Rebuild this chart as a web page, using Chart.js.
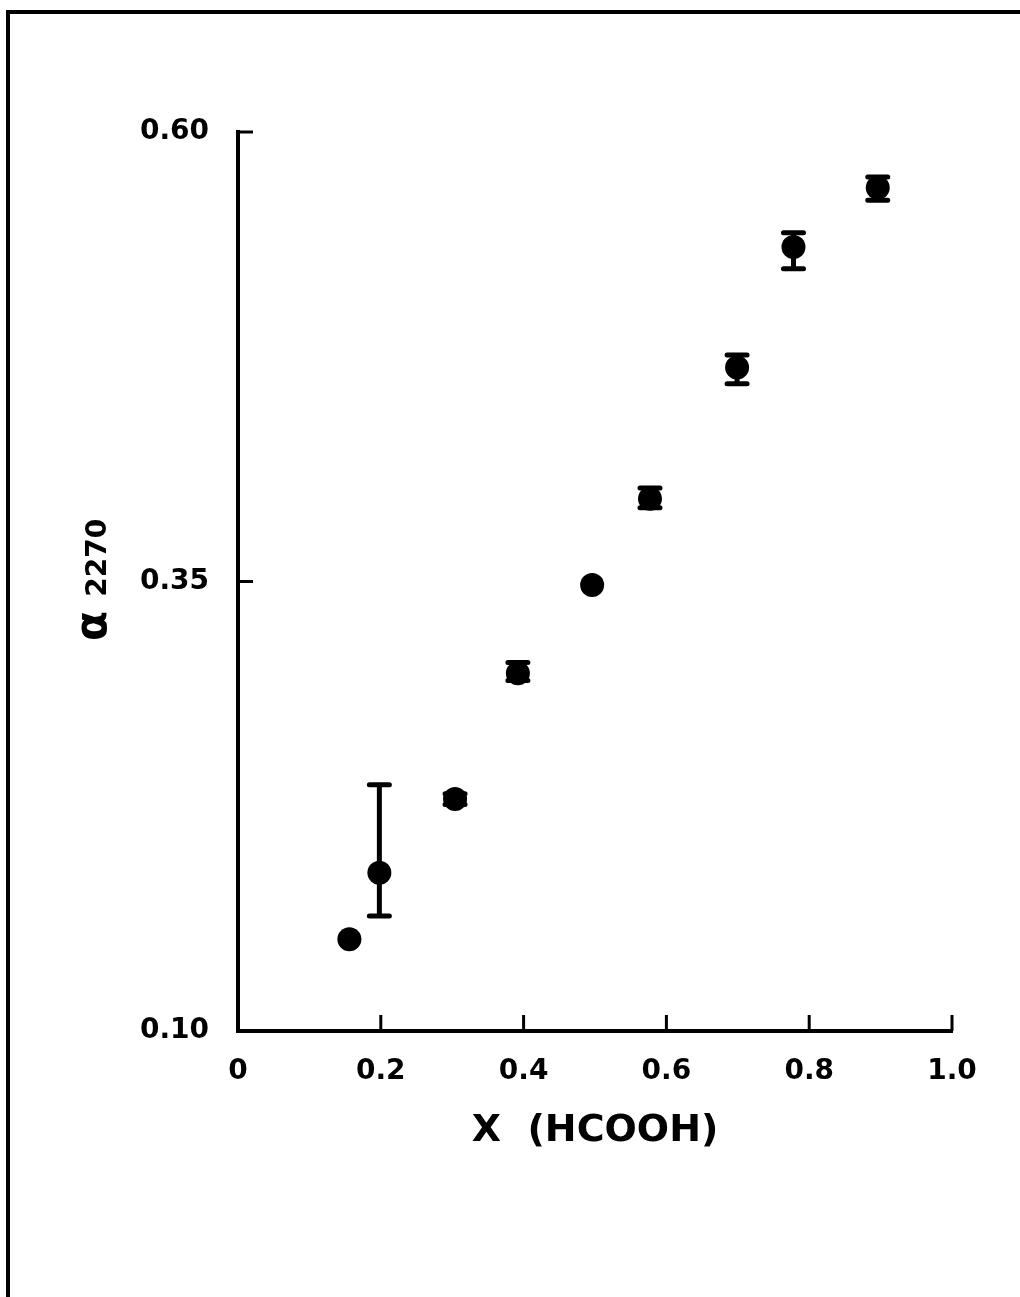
<!DOCTYPE html>
<html>
<head>
<meta charset="utf-8">
<script src="https://cdn.jsdelivr.net/npm/chart.js@4.4.0/dist/chart.umd.min.js"></script>
<style>
  html, body { margin: 0; padding: 0; background: #fff; overflow: hidden; }
  #wrap { position: relative; width: 1020px; height: 1297px; }
  #frame {
    position: absolute; left: 6px; top: 10px; width: 1100px; height: 1400px;
    border-top: 4px solid #000; border-left: 4px solid #000;
    pointer-events: none;
  }
  canvas { position: absolute; left: 0; top: 0; }
</style>
</head>
<body>
<div id="wrap">
  <canvas id="chart" width="1020" height="1297"></canvas>
  <div id="frame"></div>
</div>
<script>
'use strict';

// mole fraction of formic acid vs alpha(2270)
var xValues = [0.156, 0.198, 0.304, 0.392, 0.496, 0.577, 0.699, 0.778, 0.896];
var yValues = [0.151, 0.188, 0.229, 0.299, 0.348, 0.396, 0.469, 0.536, 0.569];
// error bar ends (null = no bar drawn)
var errLow  = [null, 0.164, 0.226, 0.295, null, 0.391, 0.460, 0.524, 0.562];
var errHigh = [null, 0.237, 0.232, 0.305, null, 0.402, 0.476, 0.544, 0.575];

var xTicks = [0, 0.2, 0.4, 0.6, 0.8, 1.0];
var yTicks = [0.10, 0.35, 0.60];

var FONT = "'DejaVu Sans', sans-serif";

var points = xValues.map(function (x, i) { return { x: x, y: yValues[i] }; });

/* error bars under the markers */
var errorBars = {
  id: 'errorBars',
  beforeDatasetsDraw: function (chart) {
    var ctx = chart.ctx, xs = chart.scales.x, ys = chart.scales.y;
    ctx.save();
    ctx.strokeStyle = '#000';
    ctx.lineCap = 'round';
    for (var i = 0; i < xValues.length; i++) {
      if (errLow[i] === null) continue;
      var px = xs.getPixelForValue(xValues[i]);
      var top = ys.getPixelForValue(errHigh[i]);
      var bot = ys.getPixelForValue(errLow[i]);
      ctx.lineWidth = 5;
      ctx.beginPath();
      ctx.moveTo(px, top); ctx.lineTo(px, bot);
      ctx.moveTo(px - 10, top); ctx.lineTo(px + 10, top);
      ctx.moveTo(px - 10, bot); ctx.lineTo(px + 10, bot);
      ctx.stroke();
    }
    ctx.restore();
  }
};

/* tick marks point into the plot, and the y title has a subscript */
var axisDecor = {
  id: 'axisDecor',
  afterDraw: function (chart) {
    var ctx = chart.ctx, xs = chart.scales.x, ys = chart.scales.y;
    var area = chart.chartArea;
    ctx.save();
    ctx.strokeStyle = '#000';
    ctx.lineWidth = 3;
    ctx.beginPath();
    yTicks.forEach(function (v, i) {
      if (i === 0) return;
      var py = ys.getPixelForValue(v);
      ctx.moveTo(area.left, py); ctx.lineTo(area.left + 15, py);
    });
    xTicks.forEach(function (v, i) {
      if (i === 0) return;
      var px = xs.getPixelForValue(v);
      ctx.moveTo(px, area.bottom); ctx.lineTo(px, area.bottom - 16);
    });
    ctx.stroke();

    ctx.translate(106, 641);
    ctx.rotate(-Math.PI / 2);
    ctx.fillStyle = '#000';
    ctx.textBaseline = 'alphabetic';
    ctx.textAlign = 'left';
    ctx.font = 'bold 44px ' + FONT;
    ctx.fillText('α', 0, 0);
    var w = ctx.measureText('α').width;
    ctx.font = 'bold 28px ' + FONT;
    ctx.fillText('2270', w + 14, 0);
    ctx.restore();
  }
};

new Chart(document.getElementById('chart').getContext('2d'), {
  type: 'scatter',
  data: {
    datasets: [{
      data: points,
      backgroundColor: '#000',
      borderWidth: 0,
      pointRadius: 12,
      pointHoverRadius: 12
    }]
  },
  options: {
    responsive: false,
    animation: false,
    events: [],
    layout: { padding: { left: 38, right: 68, top: 132, bottom: 116 } },
    plugins: { legend: { display: false }, tooltip: { enabled: false } },
    scales: {
      x: {
        type: 'linear',
        min: 0, max: 1,
        afterFit: function (s) { s.height = 150; },
        afterBuildTicks: function (s) { s.ticks = xTicks.map(function (v) { return { value: v }; }); },
        grid: { display: false, drawTicks: false },
        border: { display: true, color: '#000', width: 4 },
        ticks: {
          padding: 24, color: '#000',
          font: { family: FONT, size: 28, weight: 'bold' },
          callback: function (v) { return v === 0 ? '0' : v.toFixed(1); }
        },
        title: {
          display: true, text: 'X  (HCOOH)', color: '#000',
          font: { family: FONT, size: 38, weight: 'bold' },
          padding: { top: 0, bottom: 27 }
        }
      },
      y: {
        type: 'linear',
        min: 0.10, max: 0.60,
        afterFit: function (s) { s.width = 200; },
        afterBuildTicks: function (s) { s.ticks = yTicks.map(function (v) { return { value: v }; }); },
        grid: { display: false, drawTicks: false },
        border: { display: true, color: '#000', width: 4 },
        ticks: {
          padding: 29, color: '#000',
          font: { family: FONT, size: 28, weight: 'bold' },
          callback: function (v) { return v.toFixed(2); }
        }
      }
    }
  },
  plugins: [errorBars, axisDecor]
});
</script>
</body>
</html>
